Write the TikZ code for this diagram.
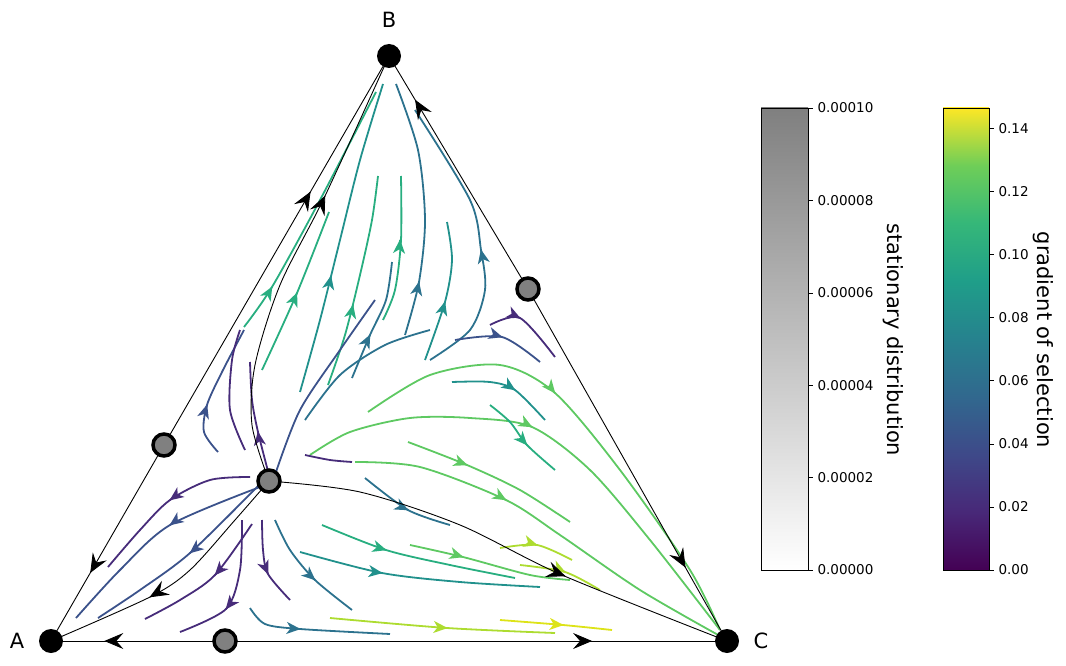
\documentclass[tikz,border=0pt]{standalone}
\usepackage{fontspec}
\setmainfont{DejaVu Sans}
\usetikzlibrary{arrows.meta,calc}
\definecolor{vA}{HTML}{472C7A}
\definecolor{vB}{HTML}{3B528B}
\definecolor{vC}{HTML}{2C728E}
\definecolor{vD}{HTML}{21918C}
\definecolor{vE}{HTML}{28AE80}
\definecolor{vF}{HTML}{5EC962}
\definecolor{vG}{HTML}{ADDC30}
\definecolor{vH}{HTML}{DDE318}
\definecolor{c0}{HTML}{440154}
\definecolor{c1}{HTML}{482878}
\definecolor{c2}{HTML}{3E4989}
\definecolor{c3}{HTML}{31688E}
\definecolor{c4}{HTML}{26828E}
\definecolor{c5}{HTML}{1F9E89}
\definecolor{c6}{HTML}{35B779}
\definecolor{c7}{HTML}{6ECE58}
\definecolor{c8}{HTML}{FDE725}
\pgfdeclareverticalshading{viridis}{100bp}{color(0bp)=(c0); color(25bp)=(c0); color(31.25bp)=(c1); color(37.5bp)=(c2); color(43.75bp)=(c3); color(50bp)=(c4); color(56.25bp)=(c5); color(62.5bp)=(c6); color(68.75bp)=(c7); color(75bp)=(c8); color(100bp)=(c8)}
\tikzset{
  sline/.style={line width=1.8pt},
  stip/.style={line width=1.6pt, -{Stealth[length=14pt,width=12pt,inset=4pt]}},
  bline/.style={black, line width=0.9pt},
  btip/.style={black, line width=0.8pt, -{Stealth[length=19pt,width=16pt,inset=7pt]}},
  corner/.style={circle, fill=black, minimum size=24pt, inner sep=0pt},
  fixpt/.style={circle, fill=gray, draw=black, line width=3.5pt, minimum size=22pt, inner sep=0pt},
  tick/.style={font=\fontsize{13.5}{16}\selectfont, anchor=west},
  vlabel/.style={font=\fontsize{21}{25}\selectfont, rotate=-90},
  corlab/.style={font=\fontsize{21}{25}\selectfont}
}
% #1 colour, #2 coords, #3 arrow point, #4 direction point
\newcommand{\sli}[4]{\draw[sline,#1] plot[smooth] coordinates {#2};
  \draw[stip,#1] (#3) -- ($(#3)!0.6pt!(#4)$);}
\newcommand{\slo}[2]{\draw[sline,#1] plot[smooth] coordinates {#2};}
\newcommand{\bti}[2]{\draw[btip] (#1) -- ($(#1)!0.6pt!(#2)$);}
\begin{document}
\begin{tikzpicture}[x=1pt,y=-1pt]
\useasboundingbox (0,0) rectangle (1066,666);
\coordinate (A) at (51,641);
\coordinate (B) at (389,56);
\coordinate (C) at (727,641);
\coordinate (S) at (269,481);
\coordinate (AB) at (164,445);
\coordinate (BC) at (528,289);
\coordinate (AC) at (225,641);
% streamlines
\sli{vE}{(244,327)(272,287)(320,200)(376,92)}{272,287}{280,273}
\sli{vE}{(262,370)(297,293)(329,212)}{297,293}{303,279}
\sli{vD}{(300,392)(320,320)(340,240)(360,160)(383,84)}{331,276}{334,262}
\sli{vE}{(328,385)(345,335)(360,275)(372,220)(378,176)}{353,305}{356,291}
\sli{vC}{(352,378)(370,335)(386,300)(392,262)}{370,335}{377,321}
\sli{vE}{(383,320)(395,290)(401,240)(401,176)}{400,240}{401,226}
\sli{vC}{(405,335)(419,282)(425,220)(418,150)(396,84)}{419,282}{422,268}
\sli{vD}{(425,360)(445,302)(452,260)(447,222)}{445,302}{449,288}
\sli{vC}{(430,360)(470,330)(485,290)(481,250)(470,200)(415,110)}{481,250}{478,236}
\sli{vA}{(269,475)(258,432)(252,400)(250,362)}{258,432}{256,418}
\sli{vB}{(218,452)(204,432)(207,405)(222,372)(244,330)}{207,405}{211,392}
\slo{vA}{(245,450)(230,410)(232,360)(240,330)}
\slo{vB}{(276,472)(300,410)(340,350)(375,300)}
\slo{vC}{(305,420)(340,375)(385,345)(430,330)}
% right region
\sli{vA}{(490,325)(520,318)(555,357)}{520,318}{532,324}
\sli{vB}{(455,340)(502,337)(540,362)}{502,337}{515,341}
\sli{vF}{(368,412)(430,375)(500,365)(555,393)(620,470)(690,570)(720,630)}{555,393}{564,404}
\sli{vD}{(452,382)(490,382)(515,390)(545,420)}{515,390}{527,398}
\sli{vF}{(310,455)(350,432)(410,418)(470,418)(532,427)(590,470)(650,540)(720,630)}{532,427}{545,434}
\sli{vE}{(490,405)(510,422)(527,445)(555,470)}{527,445}{536,455}
\sli{vF}{(408,442)(467,465)(520,490)(570,522)}{467,465}{480,470}
\sli{vF}{(355,462)(420,467)(506,500)(560,535)(640,590)(720,636)}{506,500}{518,507}
\sli{vC}{(365,478)(408,510)(450,525)}{408,510}{420,516}
\sli{vE}{(322,525)(386,550)(450,565)(515,578)}{386,550}{399,554}
\sli{vD}{(300,552)(382,573)(460,582)(540,587)}{382,573}{396,575}
\sli{vG}{(500,548)(537,545)(572,560)}{537,545}{550,549}
\sli{vF}{(410,545)(463,557)(530,575)(570,580)}{463,557}{476,561}
\sli{vG}{(520,565)(565,572)(600,590)}{565,572}{577,578}
\sli{vG}{(330,618)(447,628)(555,633)}{447,628}{460,629}
\sli{vH}{(500,620)(563,625)(612,630)}{563,625}{576,626}
\sli{vC}{(250,608)(265,624)(300,629)(390,634)}{300,629}{313,630}
\sli{vC}{(275,520)(290,550)(315,580)(352,610)}{315,580}{325,589}
\sli{vA}{(262,520)(263,550)(268,574)(290,600)}{268,574}{273,586}
\sli{vA}{(242,520)(240,570)(226,609)(180,632)}{226,609}{218,619}
\sli{vB}{(258,486)(190,553)(140,590)(98,618)}{190,553}{179,562}
\sli{vB}{(260,487)(170,525)(120,570)(76,618)}{170,525}{159,533}
\sli{vA}{(250,477)(210,480)(170,500)(140,530)(108,567)}{170,500}{159,508}
\sli{vA}{(252,524)(215,575)(180,600)(145,619)}{215,575}{206,585}
\slo{vA}{(305,455)(330,460)(352,462)}
% black trajectories
\draw[bline] (AB) -- (A);
\draw[bline] (AB) -- (B);
\draw[bline] (BC) -- (B);
\draw[bline] (BC) -- (C);
\draw[bline] (AC) -- (A);
\draw[bline] (AC) -- (C);
\bti{$(AB)!0.65!(A)$}{A}
\bti{$(AB)!0.65!(B)$}{B}
\bti{$(BC)!0.81!(B)$}{B}
\bti{$(BC)!0.79!(C)$}{C}
\bti{$(AC)!0.69!(A)$}{A}
\bti{$(AC)!0.73!(C)$}{C}
\draw[bline] plot[smooth] coordinates {(269,481)(252,425)(255,365)(280,285)(325,196)(389,56)};
\bti{325,196}{331,183}
\draw[bline] plot[smooth] coordinates {(269,481)(235,520)(190,570)(150,597)(51,641)};
\bti{150,597}{138,604}
\draw[bline] plot[smooth] coordinates {(269,481)(360,492)(460,525)(562,575)(727,641)};
\bti{565,576}{578,581}
% nodes
\node[corner] (nA) at (A) {};
\node[corner] (nB) at (B) {};
\node[corner] (nC) at (C) {};
\node[fixpt] (nS) at (S) {};
\node[fixpt] (nAB) at (AB) {};
\node[fixpt] (nBC) at (BC) {};
\node[fixpt] (nAC) at (AC) {};
\node[corlab] (lA) at (17,641) {A};
\node[corlab] (lB) at (389,20) {B};
\node[corlab] (lC) at (761,641) {C};
% colorbars
\shade[bottom color=white, top color=gray] (761,108) rectangle (808,570);
\draw[line width=0.6pt] (761,108) rectangle (808,570);
\foreach \y/\t in {570/0.00000,477.6/0.00002,385.2/0.00004,292.8/0.00006,200.4/0.00008,108/0.00010}{
  \draw[line width=0.6pt] (808,\y) -- (813,\y);
  \node[tick] at (814,\y) {\t};
}
\node[vlabel] (gl) at (893,340) {stationary distribution};
\shade[shading=viridis] (943,108) rectangle (989,570);
\draw[line width=0.6pt] (943,108) rectangle (989,570);
\foreach \y/\t in {570/0.00,506.9/0.02,443.8/0.04,380.7/0.06,317.6/0.08,254.5/0.10,191.4/0.12,128.3/0.14}{
  \draw[line width=0.6pt] (989,\y) -- (994,\y);
  \node[tick] at (995,\y) {\t};
}
\node[vlabel] (vl) at (1043,340) {gradient of selection};
\end{tikzpicture}
\end{document}
